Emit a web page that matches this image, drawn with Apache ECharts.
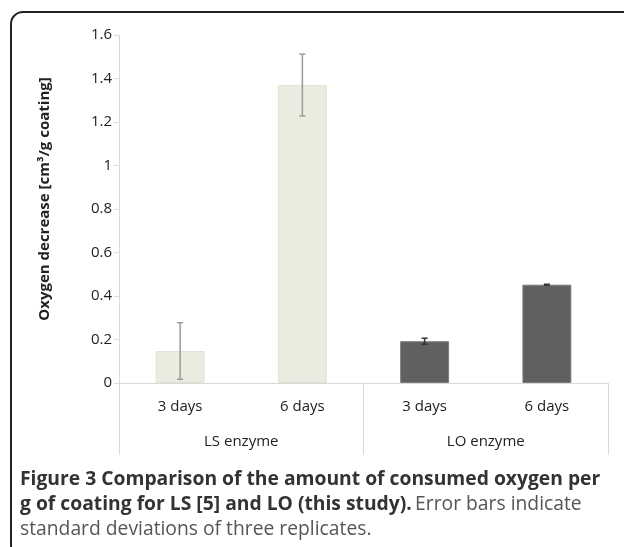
<!DOCTYPE html>
<html><head><meta charset="utf-8">
<script src="https://cdn.jsdelivr.net/npm/echarts@6/dist/echarts.min.js"></script>
<style>html,body{margin:0;padding:0;background:#fff}#c{width:624px;height:547px}</style>
</head><body><div id="c"></div>
<script>
var categories = ['3 days', '6 days', '3 days', '6 days'];
var groups = ['LS enzyme', 'LO enzyme'];
var groupOfCategory = [0, 0, 1, 1];
var values = [0.147, 1.370, 0.192, 0.452];
var errors = [0.130, 0.142, 0.014, 0.002];
var yTicks = [0, 0.2, 0.4, 0.6, 0.8, 1, 1.2, 1.4, 1.6];

var groupColors = ['#ECEBE0', '#606060'];
var errColors = ['#9a9a9a', '#333333'];
var axisColor = '#d9d9d9';
var font = '"Open Sans", "DejaVu Sans", sans-serif';

var chart = echarts.init(document.getElementById('c'), null, {renderer: 'canvas'});
var barData = values.map(function (v, i) {
  return {value: v, itemStyle: {color: groupColors[groupOfCategory[i]], borderColor: groupOfCategory[i] ? '#7a7a7a' : '#e4e2d6', borderWidth: 1}};
});
var errData = values.map(function (v, i) { return [i, v - errors[i], v + errors[i]]; });

chart.setOption({
  animation: false,
  grid: {left: 119, right: 16, top: 35, bottom: 164, containLabel: false},
  xAxis: [{
    type: 'category', data: categories, position: 'bottom',
    axisLine: {show: true, lineStyle: {color: axisColor, width: 1}},
    axisTick: {show: false},
    axisLabel: {color: '#222', fontSize: 15, fontFamily: font, margin: 16}
  }, {
    type: 'category', data: groups, position: 'bottom',
    axisLine: {show: true, lineStyle: {color: axisColor, width: 1}},
    axisTick: {show: true, length: 72, lineStyle: {color: axisColor, width: 1}},
    axisLabel: {color: '#222', fontSize: 15, fontFamily: font, margin: 51}
  }],
  yAxis: {
    type: 'value', min: yTicks[0], max: yTicks[yTicks.length - 1], interval: 0.2,
    axisLine: {show: true, lineStyle: {color: axisColor}},
    axisTick: {show: true, length: 5, lineStyle: {color: axisColor}},
    splitLine: {show: false},
    axisLabel: {color: '#222', fontSize: 15, fontFamily: font, margin: 7,
      formatter: function (v) { return String(Math.round(v * 10) / 10); }},
    name: 'Oxygen decrease [cm³/g coating]', nameLocation: 'middle', nameGap: 67,
    nameTextStyle: {fontSize: 15, fontWeight: 'bold', color: '#222', fontFamily: font, padding: [0, 0, 0, 20]}
  },
  series: [{
    type: 'bar', xAxisIndex: 0, data: barData, barWidth: '40%'
  }, {
    type: 'custom', xAxisIndex: 0, data: errData, z: 5,
    renderItem: function (params, api) {
      var x = api.value(0);
      var lo = api.coord([x, api.value(1)]);
      var hi = api.coord([x, api.value(2)]);
      var c = errColors[groupOfCategory[x]];
      var w = 3;
      var st = {stroke: c, lineWidth: 1.5};
      return {type: 'group', children: [
        {type: 'line', shape: {x1: lo[0], y1: lo[1], x2: hi[0], y2: hi[1]}, style: st},
        {type: 'line', shape: {x1: lo[0] - w, y1: lo[1], x2: lo[0] + w, y2: lo[1]}, style: st},
        {type: 'line', shape: {x1: hi[0] - w, y1: hi[1], x2: hi[0] + w, y2: hi[1]}, style: st}
      ]};
    }
  }],
  graphic: [{
    type: 'rect', shape: {x: 11, y: 12, width: 800, height: 545, r: 12},
    style: {fill: 'none', stroke: '#222', lineWidth: 2}
  }, {
    type: 'text', left: 20, top: 467,
    style: {
      text: '{b|Figure 3 Comparison of the amount of consumed oxygen per}\n{b|g of coating for LS [5] and LO (this study).} {r|Error bars indicate}\n{r|standard deviations of three replicates.}',
      lineHeight: 25,
      rich: {
        b: {fontSize: 19.3, fontWeight: 'bold', fontFamily: font, fill: '#333', lineHeight: 25},
        r: {fontSize: 19.3, fontFamily: font, fill: '#555', lineHeight: 25}
      }
    }
  }]
});
</script>
</body></html>
